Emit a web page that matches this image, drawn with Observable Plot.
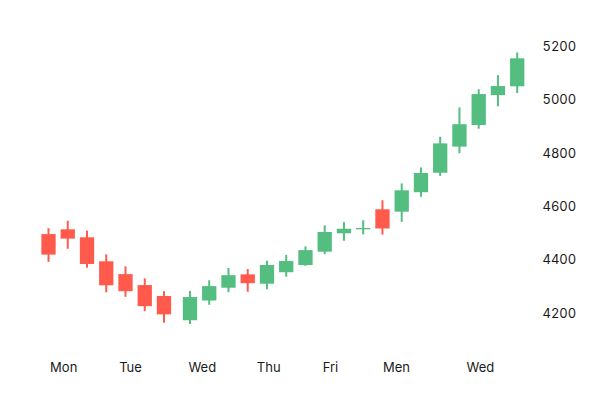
<!DOCTYPE html>
<html>
<head>
<meta charset="utf-8">
<script src="https://cdn.jsdelivr.net/npm/d3@7"></script>
<script src="https://cdn.jsdelivr.net/npm/@observablehq/plot@0.6"></script>
<style>
  html, body { margin: 0; padding: 0; background: #fff; }
  #chart { width: 600px; height: 400px; }
</style>
</head>
<body>
<div id="chart"></div>
<script>
// Session position of each candle (gap after the 7th)
const time = [0, 1, 2, 3, 4, 5, 6, 7.35, 8.35, 9.35, 10.35, 11.35, 12.35, 13.35, 14.35, 15.35, 16.35, 17.35, 18.35, 19.35, 20.35, 21.35, 22.35, 23.35, 24.35];
const open  = [4496, 4514, 4484, 4394, 4346, 4305, 4264, 4173, 4247, 4295, 4345, 4310, 4353, 4380, 4430, 4499, 4514, 4589, 4580, 4653, 4726, 4824, 4905, 5017, 5050];
const high  = [4518, 4546, 4509, 4420, 4375, 4330, 4282, 4283, 4323, 4369, 4365, 4396, 4418, 4450, 4529, 4541, 4548, 4623, 4686, 4746, 4861, 4971, 5039, 5092, 5177];
const low   = [4392, 4441, 4370, 4278, 4261, 4207, 4164, 4159, 4231, 4278, 4280, 4289, 4336, 4377, 4421, 4471, 4495, 4494, 4542, 4636, 4714, 4799, 4891, 4975, 5025];
const close = [4419, 4479, 4384, 4304, 4282, 4226, 4195, 4260, 4301, 4342, 4312, 4380, 4395, 4436, 4504, 4516, 4519, 4517, 4660, 4725, 4836, 4908, 5021, 5051, 5155];

// X-axis tick labels and positions
const xTickPos = [0.79, 4.26, 7.99, 11.44, 14.65, 18.08, 22.44];
const xTickLabels = ["Mon", "Tue", "Wed", "Thu", "Fri", "Men", "Wed"];
const yTicks = [4200, 4400, 4600, 4800, 5000, 5200];

const data = time.map((t, i) => ({
  t, open: open[i], high: high[i], low: low[i], close: close[i],
  dir: close[i] >= open[i] ? "up" : "down"
}));
const labelMap = new Map(xTickPos.map((p, i) => [p, xTickLabels[i]]));

const chart = Plot.plot({
  width: 600,
  height: 400,
  marginTop: 20,
  marginRight: 70,
  marginBottom: 44,
  marginLeft: 20,
  style: { fontSize: "13px", fontFamily: "Inter, 'Liberation Sans', sans-serif", color: "#1a1a1a", background: "#fff" },
  x: { domain: [0, 24.35], range: [48, 516.7], label: null },
  y: { domain: [4200, 5200], range: [313.05, 46.3], label: null },
  color: { domain: ["up", "down"], range: ["#53be7f", "#ff5a4b"] },
  marks: [
    Plot.axisX({ ticks: xTickPos, tickFormat: d => labelMap.get(d), tickSize: 0, tickPadding: 6, label: null }),
    Plot.axisY({ anchor: "right", ticks: yTicks, tickFormat: d => String(d), tickSize: 0, tickPadding: 12, label: null }),
    Plot.ruleX(data, { x: "t", y1: "low", y2: "high", stroke: "dir", strokeWidth: 2 }),
    Plot.ruleX(data, { x: "t", y1: "open", y2: "close", stroke: "dir", strokeWidth: 14.3 })
  ]
});
document.getElementById("chart").appendChild(chart);
</script>
</body>
</html>
